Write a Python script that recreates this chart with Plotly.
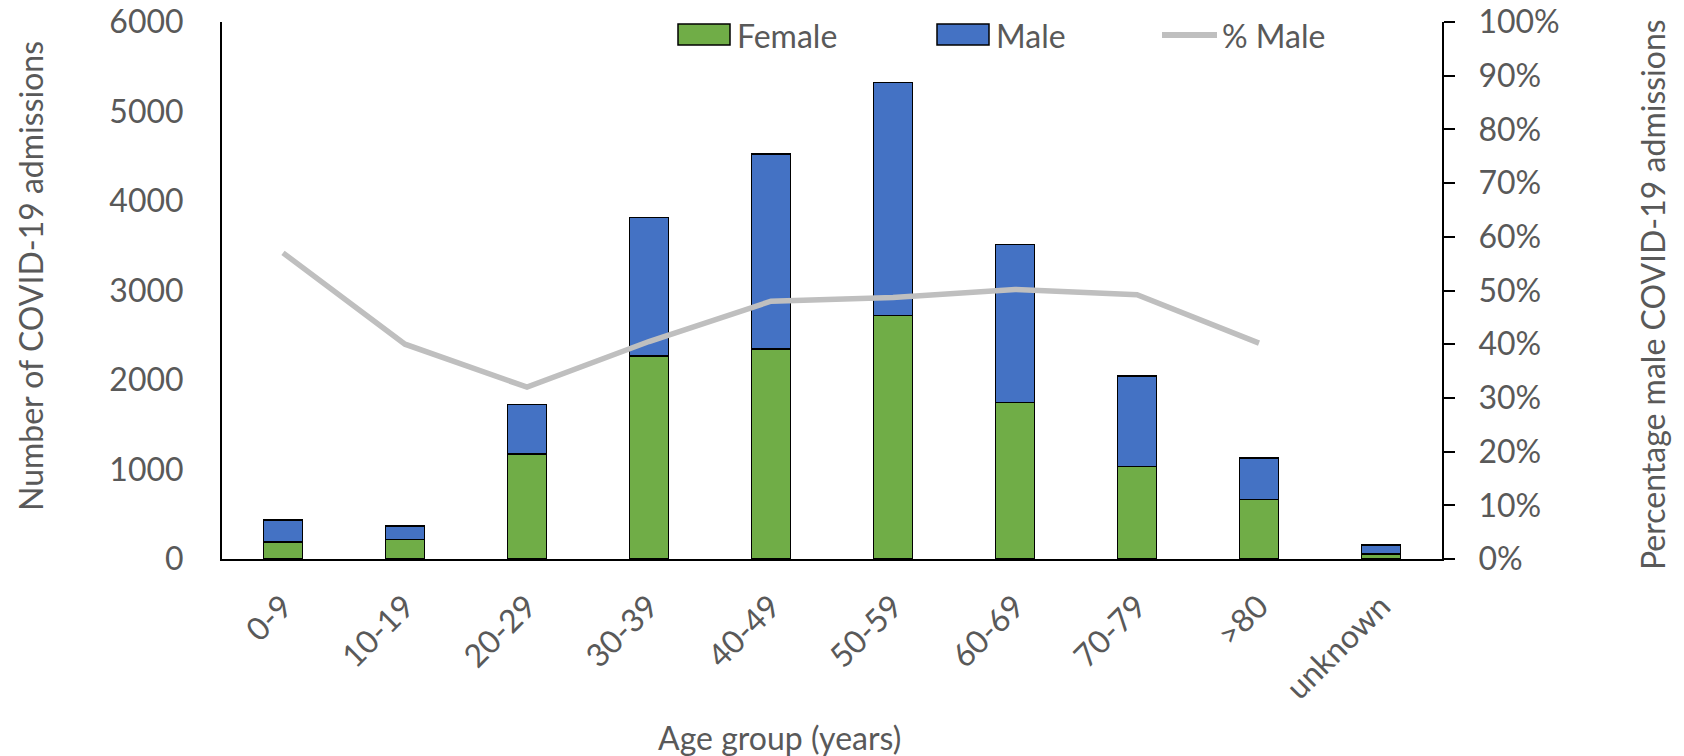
import plotly.graph_objects as go

# Admissions by age group and sex
age_groups = ["0-9", "10-19", "20-29", "30-39", "40-49", "50-59",
              "60-69", "70-79", ">80", "unknown"]
female = [188, 220, 1173, 2268, 2346, 2723, 1747, 1031, 667, 56]
male = [248, 149, 555, 1545, 2179, 2603, 1769, 1014, 461, 100]
pct_male = [0.57, 0.40, 0.32, 0.405, 0.48, 0.487, 0.502, 0.492, 0.402, None]

left_ticks = [0, 1000, 2000, 3000, 4000, 5000, 6000]

W, H = 1684, 756
L, R, T, B = 222, 242, 22, 197
FONT = "Lato, 'Open Sans', sans-serif"
TXT = "#595959"
GREEN = "#70AD47"
BLUE = "#4472C4"
GREY = "#BFBFBF"


def px(x, y):
    """Pixel position -> paper coordinates."""
    return (x - L) / (W - L - R), (H - B - y) / (H - T - B)


fig = go.Figure()
fig.add_trace(go.Bar(x=age_groups, y=female, name="Female",
                     marker=dict(color=GREEN, line=dict(color="black", width=1.5))))
fig.add_trace(go.Bar(x=age_groups, y=male, name="Male",
                     marker=dict(color=BLUE, line=dict(color="black", width=1.5))))
fig.add_trace(go.Scatter(x=age_groups, y=pct_male, name="% Male", yaxis="y2",
                         mode="lines", connectgaps=False,
                         line=dict(color=GREY, width=5.5)))

fig.update_layout(
    width=W, height=H,
    margin=dict(l=L, r=R, t=T, b=B, autoexpand=False),
    paper_bgcolor="white", plot_bgcolor="white",
    barmode="stack", bargap=0.684,
    showlegend=False,
    font=dict(family=FONT, size=32, color=TXT),
    xaxis=dict(showline=True, linecolor="black", linewidth=2, ticks="",
               tickangle=-45, showgrid=False, zeroline=False,
               ticklabelstandoff=14, automargin=False,
               tickfont=dict(family=FONT, size=32, color=TXT)),
    yaxis=dict(range=[0, 6000], tickvals=left_ticks, showline=True,
               linecolor="black", linewidth=2, ticks="", showgrid=False,
               zeroline=False, ticklabelstandoff=30, automargin=False,
               tickfont=dict(family=FONT, size=32, color=TXT)),
    yaxis2=dict(range=[0, 1], dtick=0.1, tickformat=".0%", overlaying="y",
                side="right", showline=True, linecolor="black", linewidth=2,
                ticks="outside", ticklen=11, tickwidth=2, tickcolor="black",
                showgrid=False, zeroline=False, ticklabelstandoff=17,
                automargin=False,
                tickfont=dict(family=FONT, size=32, color=TXT)),
)

# Legend drawn along the top of the plot
shapes = []
annotations = []
for x0, x1, color in [(678, 730, GREEN), (937, 989, BLUE)]:
    a = px(x0, 24)
    b = px(x1, 45)
    shapes.append(dict(type="rect", xref="paper", yref="paper",
                       x0=a[0], y0=b[1], x1=b[0], y1=a[1],
                       fillcolor=color, line=dict(color="black", width=1.5)))
a = px(1162, 35)
b = px(1217, 35)
shapes.append(dict(type="line", xref="paper", yref="paper",
                   x0=a[0], y0=a[1], x1=b[0], y1=b[1],
                   line=dict(color=GREY, width=6)))
for x, label in [(735, "Female"), (994, "Male"), (1220, "% Male")]:
    p = px(x, 35)
    annotations.append(dict(x=p[0], y=p[1], xref="paper", yref="paper",
                            text=label, showarrow=False, xanchor="left",
                            yanchor="middle", font=dict(size=32, color=TXT)))

# Axis titles
p = px(30, 276)
annotations.append(dict(x=p[0], y=p[1], xref="paper", yref="paper",
                        text="Number of COVID-19 admissions", textangle=-90,
                        showarrow=False, xanchor="center", yanchor="middle",
                        font=dict(size=32, color=TXT)))
p = px(1652, 295)
annotations.append(dict(x=p[0], y=p[1], xref="paper", yref="paper",
                        text="Percentage male COVID-19 admissions", textangle=-90,
                        showarrow=False, xanchor="center", yanchor="middle",
                        font=dict(size=32, color=TXT)))
p = px(779, 737)
annotations.append(dict(x=p[0], y=p[1], xref="paper", yref="paper",
                        text="Age group (years)", showarrow=False,
                        xanchor="center", yanchor="middle",
                        font=dict(size=32, color=TXT)))

fig.update_layout(shapes=shapes, annotations=annotations)
fig.write_html("out.html")
